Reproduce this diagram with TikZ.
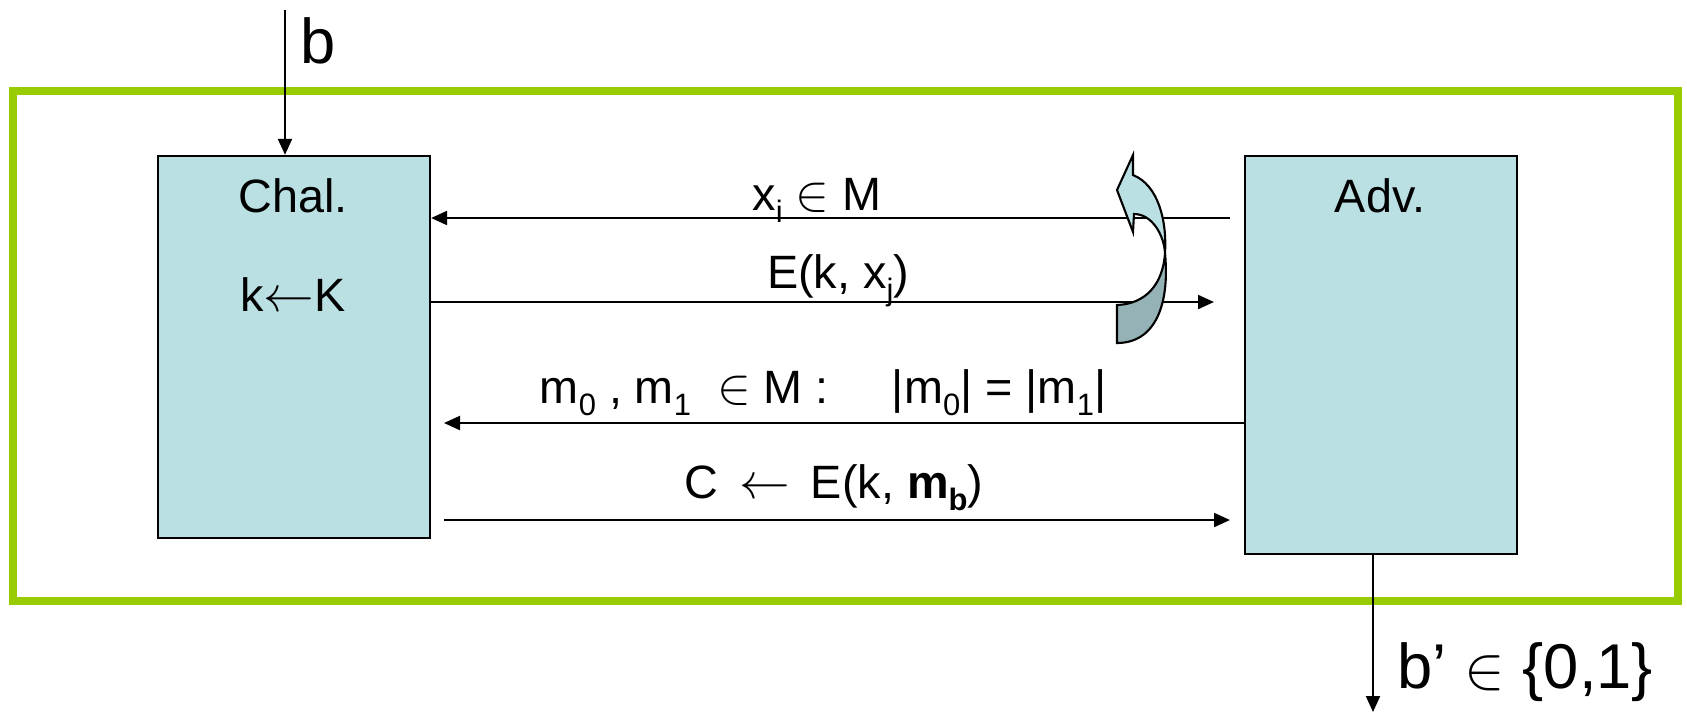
\documentclass[tikz,border=0pt]{standalone}
\usepackage{fontspec}
\setmainfont{Liberation Sans}
\usepackage{tikz}
\usetikzlibrary{arrows.meta,positioning,calc}
\definecolor{frame}{RGB}{153,204,0}
\definecolor{party}{RGB}{187,224,227}
\definecolor{partydark}{RGB}{149,179,182}
\newcommand{\lo}[1]{\raisebox{-0.5ex}{\fontsize{8.8}{9}\selectfont #1}}

\begin{document}
\begin{tikzpicture}[x=0.01cm, y=-0.01cm,
  party/.style={draw, line width=0.6pt, fill=party, minimum width=2.72cm, inner sep=0pt},
  msg/.style={-{Triangle[length=0.16cm,width=0.14cm]}, line width=0.6pt},
  lbl/.style={anchor=base, inner sep=0pt, font=\fontsize{13.3}{15}\selectfont},
  big/.style={anchor=base west, inner sep=0pt, font=\fontsize{18}{21}\selectfont}]
  \useasboundingbox (0,0) rectangle (1687,714);

  % Frame
  \draw[frame, line width=0.08cm] (13,91) rectangle (1678,601);

  % Parties
  \node[party, minimum height=3.82cm] (chal) at (294,347) {};
  \node[party, minimum height=3.98cm] (adv) at (1381,355) {};
  \node[lbl] (chalname) at (293,212) {Chal.};
  \node[lbl] (chalkey) at (293,311) {k$\leftarrow$K};
  \node[lbl] (advname) at (1380,212) {Adv.};

  % Bit in and out
  \coordinate (bin) at (285,10);
  \draw[msg] (bin) -- (bin |- chal.north);
  \node[big] (bit) at (300,63) {b};
  \coordinate (bout) at (1373,712);
  \draw[msg] (bout |- adv.south) -- (bout);
  \node[big] (guess) at (1397,688) {b’ $\in$ \{0,1\}};

  % Messages
  \coordinate (q1) at (1230,218);
  \draw[msg] (q1) -- (q1 -| chal.east);
  \node[lbl] (query1) at (817,210) {x\lo{i} $\in$ M};
  \coordinate (r1) at (1214,302);
  \draw[msg] (r1 -| chal.east) -- (r1);
  \node[lbl] (reply1) at (838,288) {E(k, x\lo{j})};
  \coordinate (q2) at (444,423);
  \draw[msg] (q2 -| adv.west) -- (q2);
  \node[lbl] (query2) at (823,403) {m\lo{0} , m\lo{1} \ $\in$ M :\hspace{0.63cm}|m\lo{0}| = |m\lo{1}|};
  \coordinate (r2s) at (444,520);
  \coordinate (r2) at (1230,520);
  \draw[msg] (r2s) -- (r2);
  \node[lbl] (reply2) at (834,498) {C\,\ $\leftarrow$\ \,E(k, \textbf{m}\lo{\textbf{b}})};

  % Repeat arrow
  \filldraw[fill=party, line width=0.6pt] (1133,155) -- (1117,190) -- (1133,232) -- (1134,214)
    .. controls (1152,214) and (1164,235) .. (1165,253)
    .. controls (1167,220) and (1158,185) .. (1133,175) -- cycle;
  \filldraw[fill=partydark, line width=0.6pt] (1165,253) .. controls (1163,285) and (1145,304) .. (1117,305)
    -- (1117,343) .. controls (1155,343) and (1170,305) .. (1165,253) -- cycle;
\end{tikzpicture}
\end{document}
